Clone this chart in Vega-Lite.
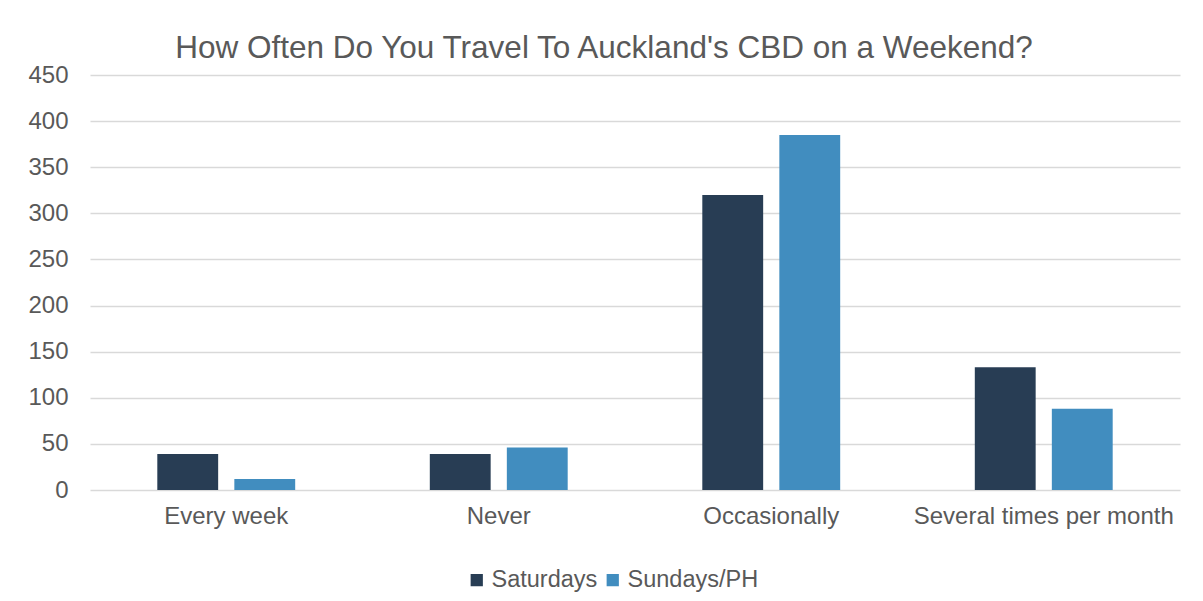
{
  "$schema": "https://vega.github.io/schema/vega-lite/v6.json",
  "width": 1090,
  "height": 415,
  "autosize": {"type": "none"},
  "padding": {"left": 90, "top": 75, "right": 23, "bottom": 111},
  "background": "white",
  "title": {
    "text": "How Often Do You Travel To Auckland's CBD on a Weekend?",
    "fontSize": 31.5,
    "font": "Liberation Sans",
    "fontWeight": "normal",
    "color": "#595959",
    "anchor": "middle",
    "frame": "bounds",
    "offset": -1
  },
  "data": {
    "values": [
      {"category": "Every week", "series": "Saturdays", "value": 39},
      {"category": "Every week", "series": "Sundays/PH", "value": 12},
      {"category": "Never", "series": "Saturdays", "value": 39},
      {"category": "Never", "series": "Sundays/PH", "value": 46},
      {"category": "Occasionally", "series": "Saturdays", "value": 320},
      {"category": "Occasionally", "series": "Sundays/PH", "value": 385},
      {"category": "Several times per month", "series": "Saturdays", "value": 133},
      {"category": "Several times per month", "series": "Sundays/PH", "value": 88}
    ]
  },
  "mark": {"type": "bar"},
  "encoding": {
    "x": {
      "field": "category",
      "type": "nominal",
      "sort": null,
      "scale": {"paddingInner": 0.494, "paddingOuter": 0.247},
      "axis": {
        "title": null,
        "labelAngle": 0,
        "labelFontSize": 24,
        "labelFont": "Liberation Sans",
        "labelColor": "#595959",
        "labelPadding": 14,
        "labelLimit": 0,
        "domain": false,
        "ticks": false
      }
    },
    "xOffset": {
      "field": "series",
      "type": "nominal",
      "scale": {"paddingInner": 0.21, "paddingOuter": 0}
    },
    "y": {
      "field": "value",
      "type": "quantitative",
      "scale": {"domain": [0, 450]},
      "axis": {
        "title": null,
        "values": [0, 50, 100, 150, 200, 250, 300, 350, 400, 450],
        "labelFontSize": 24,
        "labelFont": "Liberation Sans",
        "labelColor": "#595959",
        "labelPadding": 22,
        "domain": false,
        "ticks": false,
        "gridColor": "#d9d9d9",
        "gridWidth": 1.5
      }
    },
    "color": {
      "field": "series",
      "type": "nominal",
      "scale": {"domain": ["Saturdays", "Sundays/PH"], "range": ["#283d54", "#418dbf"]},
      "legend": {
        "title": null,
        "orient": "none",
        "direction": "horizontal",
        "legendX": 375,
        "legendY": 493,
        "symbolType": "square",
        "symbolSize": 150,
        "symbolStrokeWidth": 0,
        "labelFontSize": 23.5,
        "labelFont": "Liberation Sans",
        "labelColor": "#595959",
        "labelOffset": 3,
        "columnPadding": 3
      }
    }
  },
  "config": {
    "view": {"stroke": null}
  }
}
